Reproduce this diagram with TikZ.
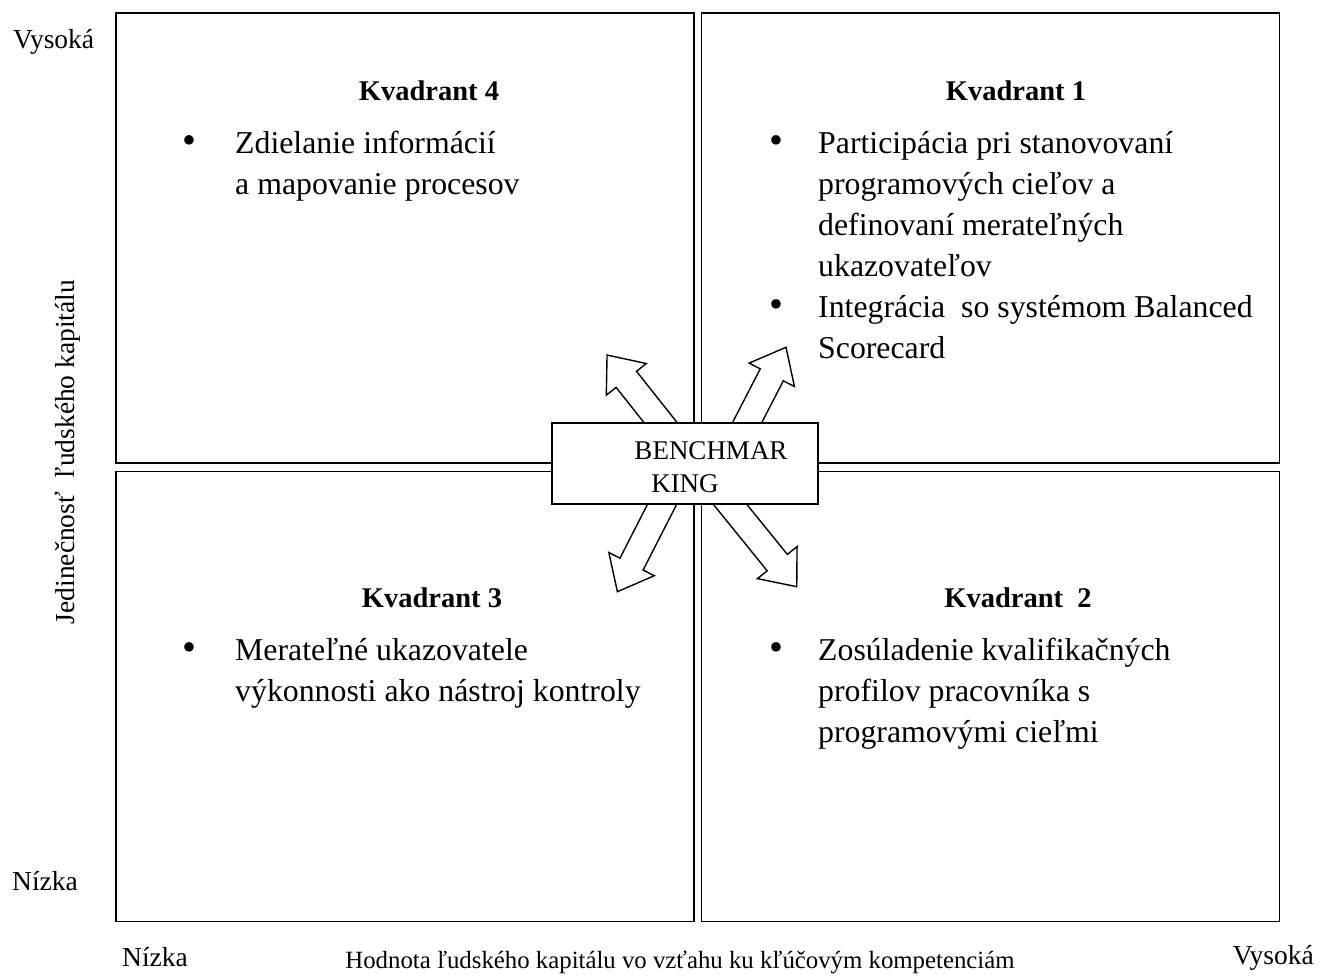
\documentclass[tikz,border=0pt]{standalone}
\usepackage{fontspec}
\setmainfont{Liberation Serif}
\usepackage{tikz}
\newcommand{\kbullet}{\raisebox{-0.5pt}{\scalebox{1.25}{\textbullet}}}

\begin{document}
\begin{tikzpicture}[x=1pt,y=-1pt,inner sep=0pt]
    \tikzstyle{quadrant}=[rectangle,draw=black,line width=1.8pt,minimum width=578pt,minimum height=450pt]
    \tikzstyle{title}=[font=\fontsize{28.5}{33}\selectfont\bfseries,anchor=base]
    \tikzstyle{item}=[font=\fontsize{31.8}{41}\selectfont,anchor=base west]
    \tikzstyle{axis}=[font=\fontsize{27.5}{33}\selectfont,anchor=base west]
    \tikzstyle{blockarrow}=[draw=black,line width=1.4pt,fill=white,line join=miter]
    \useasboundingbox (0,0) rectangle (1322,978);

    \foreach \n/\x/\y in {4/405/238, 1/990.5/238, 3/405/696.5, 2/990.5/696.5} {
        \node[quadrant] (k\n) at (\x,\y) {};
    };

    \node[title] (t4) at (429,100) {Kvadrant 4};
    \node[title] (t1) at (1016,100) {Kvadrant 1};
    \node[title] (t3) at (432,607) {Kvadrant 3};
    \node[title] (t2) at (1018,607) {Kvadrant\ \ 2};

    \node[item] (i4) at (182,153) {\begin{tabular}[t]{@{}p{53pt}@{}l@{}}
        \kbullet & Zdielanie informácií\\
                 & a mapovanie procesov
    \end{tabular}};
    \node[item] (i1) at (769,153) {\begin{tabular}[t]{@{}p{49pt}@{}l@{}}
        \kbullet & Participácia pri stanovovaní\\
                 & programových cieľov a\\
                 & definovaní merateľných\\
                 & ukazovateľov\\
        \kbullet & Integrácia\ \ so systémom Balanced\\
                 & Scorecard
    \end{tabular}};
    \node[item] (i3) at (182,660) {\begin{tabular}[t]{@{}p{53pt}@{}l@{}}
        \kbullet & Merateľné ukazovatele\\
                 & výkonnosti ako nástroj kontroly
    \end{tabular}};
    \node[item] (i2) at (769,660) {\begin{tabular}[t]{@{}p{49pt}@{}l@{}}
        \kbullet & Zosúladenie kvalifikačných\\
                 & profilov pracovníka s\\
                 & programovými cieľmi
    \end{tabular}};

    % block arrows out of the centre
    \foreach \x/\y/\ang/\len in {693/463.5/128.4/138.4, 726/463.5/62.7/130.8, 683/463.5/242.9/144, 697/463.5/-51/158.5} {
        \draw[blockarrow,shift={(\x,\y)},rotate=\ang] (0,-13) -- (\len-31,-13) -- (\len-31,-25.5) -- (\len,0)
            -- (\len-31,25.5) -- (\len-31,13) -- (0,13) -- cycle;
    };

    \node[rectangle,draw=black,line width=1.8pt,fill=white,minimum width=266pt,minimum height=81pt] (bm) at (685,463.5) {};
    \node[font=\fontsize{27}{33}\selectfont,align=center] (bmtext) at (685,467) {\hspace*{52pt}BENCHMAR\\KING};

    \node[axis] (hi) at (13,48) {Vysoká};
    \node[axis] (lo) at (12,890) {Nízka};
    \node[axis,rotate=90,anchor=base] (yl) at (74,452) {Jedinečnosť\ \ ľudského kapitálu};
    \node[axis] (xlo) at (122,966) {Nízka};
    \node[axis,anchor=base,font=\fontsize{24.8}{30}\selectfont] (xl) at (680,968) {Hodnota ľudského kapitálu vo vzťahu ku kľúčovým kompetenciám};
    \node[axis,anchor=base east] (xhi) at (1314,964) {Vysoká};
\end{tikzpicture}
\end{document}
